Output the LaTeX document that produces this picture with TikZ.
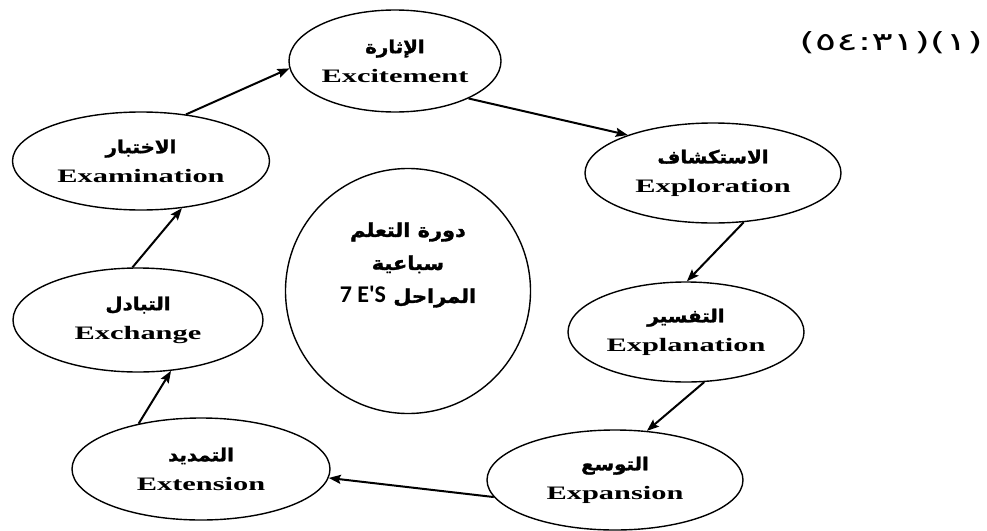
\documentclass[tikz,border=0pt]{standalone}
\usepackage{fontspec}
\setmainfont{Liberation Serif}
\newfontfamily\arabicfont[Script=Arabic,FakeBold=1.6,FakeStretch=1.1]{DejaVu Sans}
\newfontfamily\widefont[FakeStretch=1.6]{Liberation Serif}
\newfontfamily\hubfont{Carlito}
\newfontfamily\digitfont[FakeStretch=1.6]{DejaVu Sans}
\TeXXeTstate=1
\newcommand\arlabel[1]{{\arabicfont\fontsize{18}{29}\selectfont\beginR #1\endR}}
\newcommand\hubline[1]{{\arabicfont\bfseries\fontsize{19}{33}\selectfont\beginR #1\endR}}
\usetikzlibrary{arrows.meta, shapes.geometric}

\begin{document}
\begin{tikzpicture}[x=1pt,y=-1pt,->,>={Stealth[length=12pt,width=9pt,inset=2pt]},line width=2pt,
  stage node/.style={ellipse,draw,line width=1.4pt,minimum width=256pt,minimum height=100pt,
    inner sep=0pt,align=center,font=\widefont\bfseries\fontsize{19}{29}\selectfont},
  hub node/.style={circle,draw,line width=1.4pt,minimum size=245pt,inner sep=0pt},
  hub text/.style={align=center,inner sep=0pt,font=\bfseries\fontsize{19}{33}\selectfont}]
  \useasboundingbox (0,0) rectangle (987,530);

  \node (source) at (891,43) {\digitfont\fontsize{25}{30}\selectfont (٥٤:٣١)(١)};

  \node[stage node, minimum width=212pt, minimum height=102pt] (excite) at (395,61) {\arlabel{الإثارة}\\Excitement};
  \node[stage node] (explore) at (713,173) {\arlabel{الاستكشاف}\\Exploration};
  \node[stage node, minimum width=236pt] (explain) at (686,332) {\arlabel{التفسير}\\Explanation};
  \node[stage node] (expand) at (615,480) {\arlabel{التوسع}\\Expansion};
  \node[stage node, minimum width=258pt, minimum height=102pt] (extend) at (201,469) {\arlabel{التمديد}\\Extension};
  \node[stage node, minimum width=250pt, minimum height=104pt] (exch) at (138,320) {\arlabel{التبادل}\\Exchange};
  \node[stage node, minimum width=257pt, minimum height=98pt] (exam) at (141,161) {\arlabel{الاختبار}\\Examination};

  \node[hub node] (hub) at (408,291) {};
  \node[hub text] (hubtext) at ([yshift=26pt]hub.center)
    {\hubline{دورة التعلم}\\ \hubline{سباعية}\\
     \hubline{المراحل {\hubfont\bfseries\fontsize{24}{33}\selectfont\beginL 7 E'S\endL}}};

  \path (exam.46) edge (excite.184)
        (excite.-27) edge (explore.156)
        (explore.-58) edge (explain.89)
        (explain.-70) edge (expand.57)
        (expand.188) edge (extend.-4)
        (extend.144) edge (exch.-57)
        (exch.96) edge (exam.-49);
\end{tikzpicture}
\end{document}
